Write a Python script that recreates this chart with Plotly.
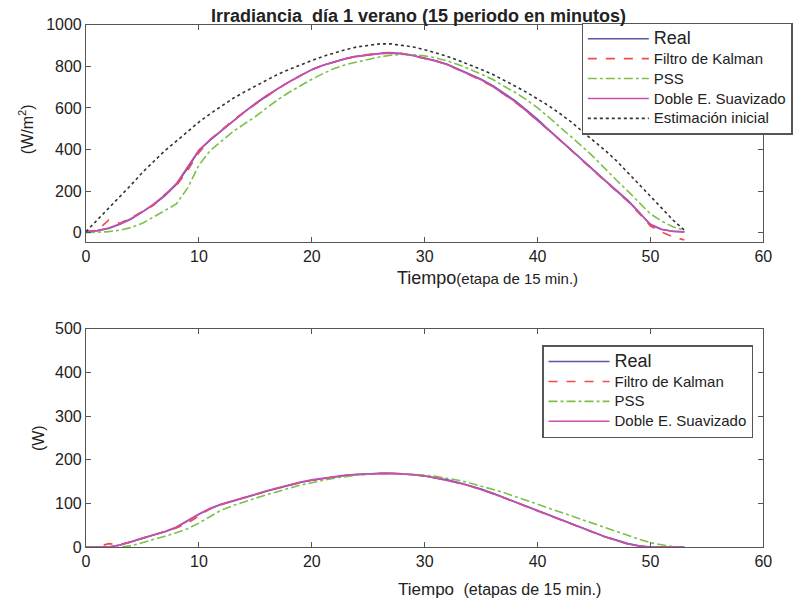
import plotly.graph_objects as go

# ---------------- data ----------------
t_top = list(range(0, 54))
irr_real = [5, 10, 20, 40, 65, 98, 135, 178, 232, 310, 395, 445, 490, 535, 580, 620, 658, 693, 725, 755,
            784, 805, 822, 837, 848, 856, 862, 865, 862, 852, 840, 827, 810, 787, 762, 738, 708, 670, 635, 590,
            545, 495, 447, 400, 350, 300, 250, 203, 155, 98, 38, 15, 7, 4]
irr_kalman = [5, 12, 60, 45, 72, 100, 132, 185, 225, 300, 385, 448, 495, 540, 580, 618, 656, 692, 726, 757,
              786, 806, 822, 836, 850, 858, 864, 866, 862, 850, 838, 825, 808, 784, 758, 732, 704, 666, 628, 585,
              540, 492, 444, 396, 346, 296, 246, 198, 150, 92, 32, 2, -20, -35]
irr_pss = [0, 2, 5, 12, 25, 45, 75, 105, 138, 215, 325, 395, 440, 485, 522, 558, 600, 640, 675, 708,
           738, 765, 790, 808, 822, 833, 845, 853, 857, 856, 850, 840, 826, 808, 786, 762, 738, 705, 675, 640,
           600, 555, 508, 462, 412, 362, 305, 252, 200, 145, 90, 55, 28, 12]
irr_doble = [5, 10, 22, 42, 68, 100, 138, 182, 236, 315, 398, 448, 492, 538, 582, 622, 660, 694, 726, 756,
             784, 805, 822, 837, 848, 856, 861, 863, 860, 851, 839, 825, 807, 784, 760, 735, 704, 667, 630, 586,
             541, 492, 444, 397, 347, 297, 247, 200, 152, 96, 40, 16, 6, 3]
irr_estim = [5, 60, 118, 175, 230, 290, 345, 395, 440, 485, 532, 572, 610, 645, 676, 705, 735, 762, 785, 808,
             828, 848, 865, 880, 893, 902, 908, 908, 902, 893, 880, 865, 848, 828, 808, 785, 762, 735, 705, 676,
             645, 610, 572, 532, 485, 440, 395, 345, 290, 230, 175, 118, 60, 12]

t_bot = list(range(0, 54))
pow_real = [0, 0, 0, 5, 12, 20, 28, 35, 45, 60, 75, 88, 98, 105, 113, 121, 128, 135, 142, 148,
            153, 157, 161, 164, 166, 168, 169, 169, 168, 166, 163, 159, 154, 148, 141, 133, 124, 114, 104, 94,
            84, 74, 63, 53, 43, 33, 24, 16, 8, 3, 0, 0, 0, 0]
pow_kalman = [0, 0, 8, 6, 12, 20, 28, 36, 44, 55, 72, 88, 97, 106, 113, 121, 128, 135, 142, 148,
              153, 157, 161, 164, 166, 168, 169, 169, 168, 166, 163, 159, 153, 147, 140, 132, 123, 113, 103, 93,
              83, 73, 62, 52, 42, 32, 23, 15, 7, 2, 0, 0, 0, 0]
pow_pss = [0, 0, 0, 0, 3, 10, 18, 25, 33, 42, 55, 70, 85, 95, 104, 112, 120, 128, 135, 142,
           148, 153, 158, 162, 165, 167, 168, 169, 168, 167, 165, 162, 158, 153, 147, 140, 133, 125, 116, 107,
           98, 89, 80, 71, 62, 53, 44, 35, 26, 18, 10, 5, 1, 0]
pow_doble = [0, 0, 0, 5, 12, 21, 29, 36, 46, 61, 76, 89, 99, 106, 114, 122, 129, 136, 143, 149,
             154, 158, 162, 165, 167, 168, 169, 169, 168, 166, 163, 158, 153, 147, 140, 132, 123, 113, 103, 93,
             83, 73, 62, 52, 42, 32, 23, 15, 7, 2, 0, 0, 0, 0]

names = ["Real", "Filtro de Kalman", "PSS", "Doble E. Suavizado", "Estimación inicial"]
x_ticks = [0, 10, 20, 30, 40, 50, 60]
y_ticks_top = [0, 200, 400, 600, 800, 1000]
y_ticks_bot = [0, 100, 200, 300, 400, 500]

# ---------------- styles ----------------
C_REAL = "#5858a4"
C_KAL = "#f04a4a"
C_PSS = "#7cc04a"
C_DOB = "#c84fb0"
C_EST = "#333333"
FONT = "Arial, Liberation Sans, sans-serif"
AX = "#555555"
TXT = "#222222"

fig = go.Figure()

def sized(s, size):
    return "<span style='font-size:%dpx'>%s</span>" % (size, s)

def add(x, y, name, color, dash, xa, ya, legend, size=15):
    fig.add_trace(go.Scatter(x=x, y=y, mode="lines", name=sized(name, size),
                             line=dict(color=color, width=1.6, dash=dash),
                             xaxis=xa, yaxis=ya, legend=legend))

add(t_top, irr_real, names[0], C_REAL, "solid", "x", "y", "legend", 18)
add(t_top, irr_kalman, names[1], C_KAL, "dash", "x", "y", "legend")
add(t_top, irr_pss, names[2], C_PSS, "dashdot", "x", "y", "legend")
add(t_top, irr_doble, names[3], C_DOB, "solid", "x", "y", "legend")
add(t_top, irr_estim, names[4], C_EST, "dot", "x", "y", "legend")

add(t_bot, pow_real, names[0], C_REAL, "solid", "x2", "y2", "legend2", 18)
add(t_bot, pow_kalman, names[1], C_KAL, "dash", "x2", "y2", "legend2")
add(t_bot, pow_pss, names[2], C_PSS, "dashdot", "x2", "y2", "legend2")
add(t_bot, pow_doble, names[3], C_DOB, "solid", "x2", "y2", "legend2")

W, H = 793, 613
xdom = [83.5 / W, 773 / W]
top_dom = [1 - 240.7 / H, 1 - 17.2 / H]
bot_dom = [1 - 554.5 / H, 1 - 330 / H]

axcommon = dict(showline=True, linecolor=AX, linewidth=1.2, mirror="ticks", ticks="inside",
                ticklen=5, tickcolor=AX, showgrid=False, zeroline=False,
                tickfont=dict(family=FONT, size=16, color=TXT))

fig.update_layout(
    width=W, height=H, margin=dict(l=0, r=0, t=0, b=0),
    paper_bgcolor="white", plot_bgcolor="white",
    font=dict(family=FONT, color=TXT),
    xaxis=dict(domain=xdom, range=[0, 60], tickvals=x_ticks, anchor="y", **axcommon),
    yaxis=dict(domain=top_dom, range=[-45, 1000], tickvals=y_ticks_top, anchor="x", **axcommon),
    xaxis2=dict(domain=xdom, range=[0, 60], tickvals=x_ticks, anchor="y2", **axcommon),
    yaxis2=dict(domain=bot_dom, range=[0, 500], tickvals=y_ticks_bot, anchor="x2", **axcommon),
    legend=dict(x=588 / W, y=1 - 15 / H, xanchor="left", yanchor="top",
                bgcolor="white", bordercolor=AX, borderwidth=1.2,
                font=dict(family=FONT, size=13, color=TXT),
                tracegroupgap=0, itemwidth=61),
    legend2=dict(x=548 / W, y=1 - 347 / H, xanchor="left", yanchor="top",
                 bgcolor="white", bordercolor=AX, borderwidth=1.2,
                 font=dict(family=FONT, size=13, color=TXT),
                 tracegroupgap=0, itemwidth=61),
    showlegend=True,
)

ann = [
    dict(text="<b>Irradiancia  día 1 verano (15 periodo en minutos)</b>", x=422 / W, y=1 - 8 / H,
         xref="paper", yref="paper", xanchor="center", yanchor="middle", showarrow=False,
         font=dict(family=FONT, size=18, color=TXT)),
    dict(text="Tiempo<span style='font-size:15px'>(etapa de 15 min.)</span>", x=492 / W, y=1 - 278 / H,
         xref="paper", yref="paper", xanchor="center", yanchor="middle", showarrow=False,
         font=dict(family=FONT, size=18, color=TXT)),
    dict(text="Tiempo  <span style='font-size:16px'>(etapas de 15 min.)</span>", x=504 / W, y=1 - 598 / H,
         xref="paper", yref="paper", xanchor="center", yanchor="middle", showarrow=False,
         font=dict(family=FONT, size=17, color=TXT)),
    dict(text="(W/m<sup>2</sup>)", x=22 / W, y=1 - 125 / H, textangle=-90,
         xref="paper", yref="paper", xanchor="center", yanchor="middle", showarrow=False,
         font=dict(family=FONT, size=16, color=TXT)),
    dict(text="(W)", x=35 / W, y=1 - 442 / H, textangle=-90,
         xref="paper", yref="paper", xanchor="center", yanchor="middle", showarrow=False,
         font=dict(family=FONT, size=16, color=TXT)),
]
fig.update_layout(annotations=ann)

fig.write_html("out.html", config={"responsive": False})
